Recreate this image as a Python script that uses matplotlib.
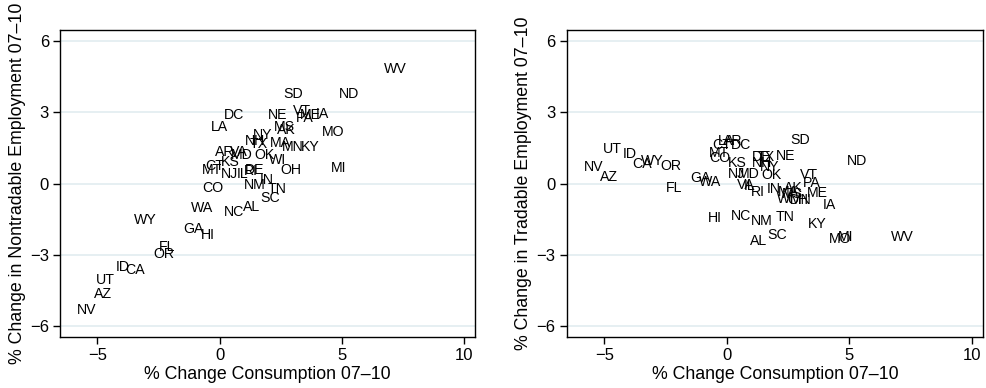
import matplotlib.pyplot as plt

plt.rcParams["font.family"] = ["Liberation Sans", "DejaVu Sans"]

states = ["WV", "ND", "SD", "NE", "VT", "PA", "ME", "IA", "DC", "LA",
          "MS", "AK", "MO", "NY", "NH", "TX", "MA", "MN", "KY", "AR",
          "VA", "MD", "OK", "WI", "KS", "CT", "MT", "NJ", "IL", "RI",
          "DE", "OH", "MI", "IN", "NM", "TN", "SC", "CO", "WA", "NC",
          "AL", "WY", "GA", "HI", "FL", "OR", "ID", "CA", "UT", "AZ", "NV"]

consumption = [7.17, 5.29, 3.00, 2.39, 3.35, 3.47, 3.70, 4.19, 0.60, -0.02,
               2.66, 2.72, 4.64, 1.75, 1.43, 1.60, 2.50, 3.00, 3.70, 0.22,
               0.78, 0.90, 1.82, 2.39, 0.42, -0.20, -0.32, 0.41, 0.92, 1.27,
               1.42, 2.90, 4.86, 1.91, 1.43, 2.37, 2.05, -0.28, -0.70, 0.58,
               1.30, -3.05, -1.07, -0.50, -2.15, -2.29, -3.98, -3.47, -4.66, -4.79, -5.43]

nontradable = [4.81, 3.76, 3.76, 2.88, 3.04, 2.77, 2.87, 2.92, 2.87, 2.36,
               2.36, 2.24, 2.15, 2.03, 1.81, 1.67, 1.72, 1.53, 1.53, 1.32,
               1.32, 1.18, 1.22, 0.97, 0.89, 0.73, 0.55, 0.41, 0.41, 0.52,
               0.58, 0.59, 0.65, 0.13, -0.08, -0.25, -0.60, -0.18, -1.05, -1.19,
               -1.00, -1.53, -1.92, -2.15, -2.69, -2.97, -3.53, -3.64, -4.04, -4.65, -5.33]

tradable = [-2.26, 0.93, 1.84, 1.14, 0.34, 0.01, -0.41, -0.90, 1.63, 1.77,
            -0.45, -0.19, -2.34, 0.71, 0.87, 1.13, -0.35, -0.70, -1.70, 1.77,
            -0.08, 0.38, 0.34, -0.65, 0.87, 1.63, 1.29, 0.40, -0.12, -0.34,
            1.13, -0.70, -2.23, -0.22, -1.56, -1.42, -2.16, 1.08, 0.08, -1.35,
            -2.44, 0.93, 0.25, -1.46, -0.17, 0.72, 1.23, 0.83, 1.46, 0.29, 0.69]

yticks = [-6, -3, 0, 3, 6]
xticks = [-5, 0, 5, 10]


def panel(ax, yvals, ylabel):
    # state codes drawn as centred labels, no markers
    for name, x, y in zip(states, consumption, yvals):
        ax.text(x, y, name, ha="center", va="center", fontsize=10.2)
    ax.set_xlim(-6.53, 10.45)
    ax.set_ylim(-6.46, 6.46)
    ax.set_xticks(xticks)
    ax.set_yticks(yticks)
    ax.grid(axis="y", color="#e4eef1", linewidth=1.3)
    ax.set_axisbelow(True)
    ax.tick_params(labelsize=12, length=5, width=1, direction="out", pad=3)
    for sp in ax.spines.values():
        sp.set_linewidth(1)
    ax.set_xlabel("% Change Consumption 07\u201310", fontsize=12.8, labelpad=2)
    ax.set_ylabel(ylabel, fontsize=12.8, labelpad=3)


fig = plt.figure(figsize=(9.87, 3.88), dpi=100)
ax1 = fig.add_axes([0.0608, 0.1314, 0.4205, 0.7912])
ax2 = fig.add_axes([0.5742, 0.1314, 0.4218, 0.7912])
panel(ax1, nontradable, "% Change in Nontradable Employment 07\u201310")
panel(ax2, tradable, "% Change in Tradable Employment 07\u201310")
fig.savefig("out.png", dpi=100)
